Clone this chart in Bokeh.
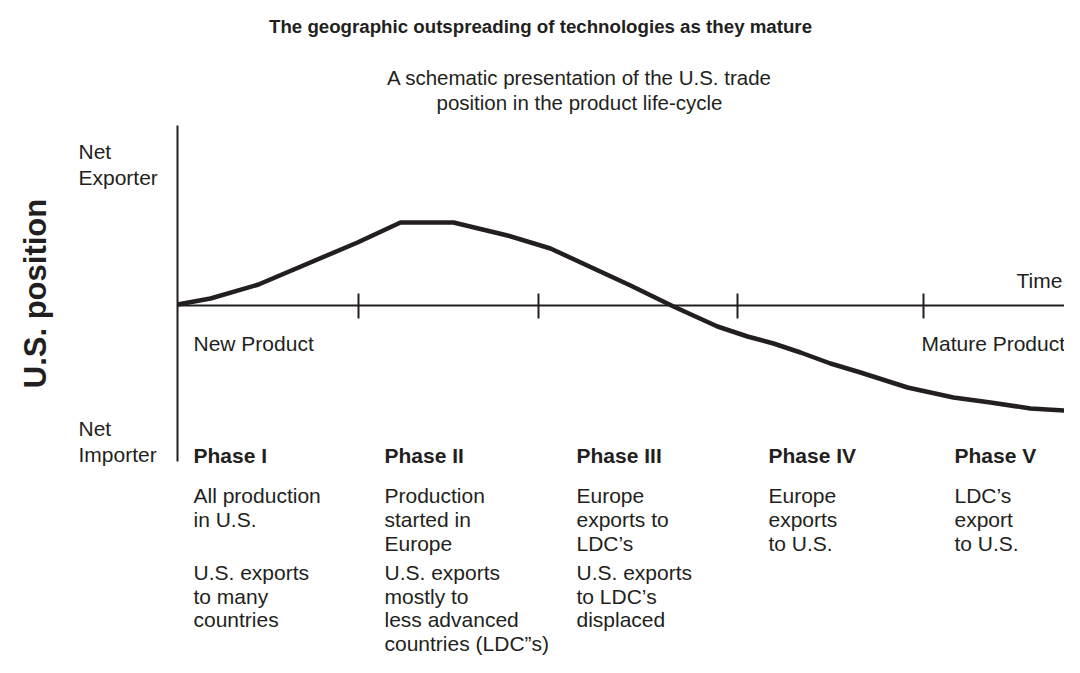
from bokeh.plotting import figure
from bokeh.models import Range1d
from bokeh.embed import file_html
from bokeh.resources import INLINE
from bokeh.core.properties import value

# ---- data (time units, U.S. net position units) ----
curve_t = [0, 3.3, 8.1, 18.0, 22.3, 27.6, 33.0, 37.3, 45.3, 49.6, 54.0, 57.0,
           59.6, 62.3, 65.3, 68.3, 73.0, 77.6, 81.3, 85.3, 90.3]
curve_v = [0.1, 0.7, 2.1, 6.3, 8.3, 8.3, 7.0, 5.7, 2.0, -0.1, -2.1, -3.1,
           -3.8, -4.7, -5.8, -6.7, -8.2, -9.2, -9.7, -10.3, -10.6]
phase_bounds = [18.1, 36.1, 56.0, 74.6]
phase_names = ["Phase I", "Phase II", "Phase III", "Phase IV", "Phase V"]
phase_desc1 = [
    ["All production", "in U.S."],
    ["Production", "started in", "Europe"],
    ["Europe", "exports to", "LDC\u2019s"],
    ["Europe", "exports", "to U.S."],
    ["LDC\u2019s", "export", "to U.S."],
]
phase_desc2 = [
    ["U.S. exports", "to many", "countries"],
    ["U.S. exports", "mostly to", "less advanced", "countries (LDC\u201ds)"],
    ["U.S. exports", "to LDC\u2019s", "displaced"],
    [],
    [],
]
title = "The geographic outspreading of technologies as they mature"
subtitle = ["A schematic presentation of the U.S. trade",
            "position in the product life-cycle"]

INK = "#231f20"
FONT = value("Liberation Sans")
W, H = 1064, 657


def px_x(rx):
    return (rx - 177) / 10.0


def px_y(ry):
    return (305 - ry) / 10.0


p = figure(width=W, height=H, output_backend="svg", toolbar_location=None,
           x_range=Range1d(px_x(0), px_x(W)), y_range=Range1d(px_y(H), px_y(0)),
           min_border=0)
p.axis.visible = False
p.grid.visible = False
p.outline_line_color = None
p.background_fill_color = "white"
p.border_fill_color = "white"

# axes
p.segment(x0=[0], y0=[0], x1=[91], y1=[0], line_color=INK, line_width=2)
p.segment(x0=[0], y0=[-15.6], x1=[0], y1=[18.0], line_color=INK, line_width=2)
p.segment(x0=phase_bounds, y0=[-1.3] * 4, x1=phase_bounds, y1=[1.2] * 4,
          line_color=INK, line_width=2)

# curve
p.line(curve_t, curve_v, line_color=INK, line_width=4.5)


def txt(x, y, s, size="21px", style="normal", align="left", angle=0.0):
    p.text(x=[x], y=[y], text=[s], text_font=FONT, text_font_size=size,
           text_font_style=style, text_color=INK, text_align=align,
           text_baseline="alphabetic", angle=angle)


txt(px_x(540), px_y(26), title, size="18.7px", style="bold", align="center")
for i, s in enumerate(subtitle):
    txt(px_x(579), px_y(77 + 25 * i), s, size="20.5px", align="center")

txt(px_x(78), px_y(151), "Net")
txt(px_x(78), px_y(177), "Exporter")
txt(px_x(78), px_y(428), "Net")
txt(px_x(78), px_y(454), "Importer")
txt(px_x(35), px_y(293), "U.S. position", size="31px", style="bold",
    align="center", angle=1.5707963)

txt(px_x(1016), px_y(280), "Time")
txt(px_x(193), px_y(343), "New Product")
txt(px_x(921), px_y(343), "Mature Product")

cols = [193, 384, 576, 768, 954]
for c, name, d1, d2 in zip(cols, phase_names, phase_desc1, phase_desc2):
    txt(px_x(c), px_y(455), name, style="bold")
    for j, s in enumerate(d1):
        txt(px_x(c), px_y(495 + 24 * j), s)
    for j, s in enumerate(d2):
        txt(px_x(c), px_y(572 + 23.5 * j), s)

open("out.html", "w").write(file_html(p, INLINE))
